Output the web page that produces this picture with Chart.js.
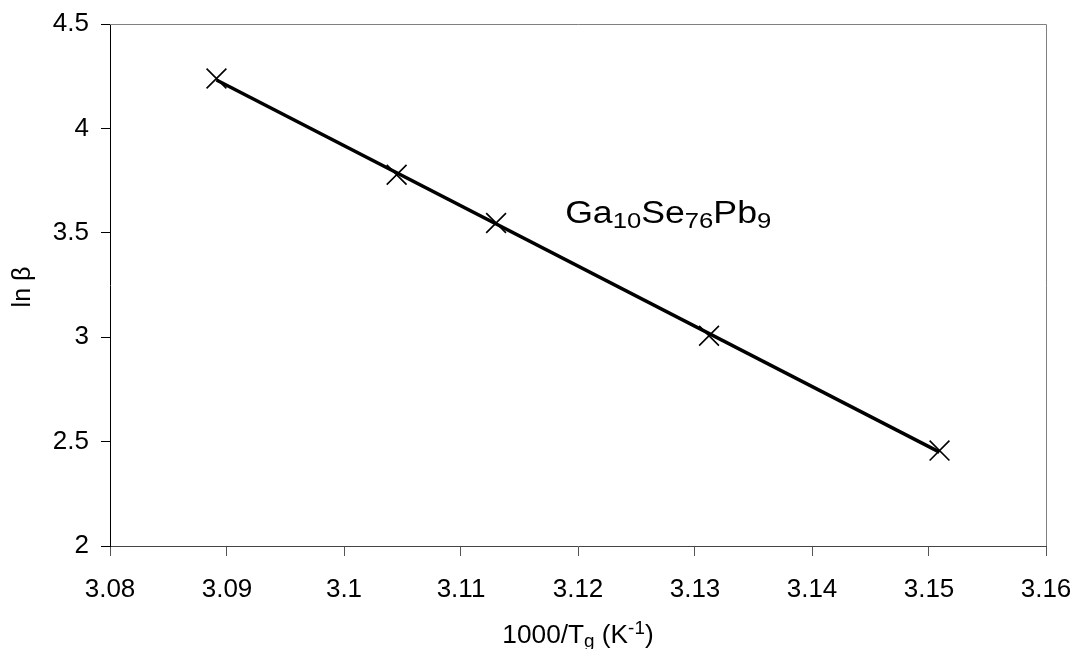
<!DOCTYPE html>
<html>
<head>
<meta charset="utf-8">
<title>ln beta vs 1000/Tg</title>
<script src="https://cdn.jsdelivr.net/npm/chart.js@4.4.1/dist/chart.umd.min.js"></script>
<style>
  html, body { margin: 0; padding: 0; background: #fff; }
  #wrap { width: 1075px; height: 649px; position: relative; }
</style>
</head>
<body>
<div id="wrap"><canvas id="lnChart"></canvas></div>
<script>
/* ─── data ─────────────────────────────────────────── */
const invTg  = [3.0891, 3.1045, 3.1130, 3.1312, 3.1509];   // 1000/Tg (K^-1)
const lnBeta = [4.239, 3.778, 3.547, 3.007, 2.457];        // ln(beta)

const xTicks = [3.08, 3.09, 3.10, 3.11, 3.12, 3.13, 3.14, 3.15, 3.16];
const yTicks = [2, 2.5, 3, 3.5, 4, 4.5];

// rich text pieces: [text, 'sub' | 'sup' | undefined]
const sampleLabel = [['Ga'], ['10', 'sub'], ['Se'], ['76', 'sub'], ['Pb'], ['9', 'sub']];
const xTitle = [['1000/T'], ['g', 'sub'], [' (K'], ['-1', 'sup'], [')']];
const yTitle = [['ln \u03b2']];

const FONT = "Arial, 'Liberation Sans', sans-serif";

/* ─── least squares fit for the drawn line ─────────── */
function linearFit(xs, ys) {
  const n = xs.length;
  const mx = xs.reduce((a, b) => a + b, 0) / n;
  const my = ys.reduce((a, b) => a + b, 0) / n;
  let sxy = 0, sxx = 0;
  for (let i = 0; i < n; i++) {
    sxy += (xs[i] - mx) * (ys[i] - my);
    sxx += (xs[i] - mx) * (xs[i] - mx);
  }
  const k = sxy / sxx;
  return x => my + k * (x - mx);
}
const fit = linearFit(invTg, lnBeta);
const xMin = Math.min(...invTg), xMax = Math.max(...invTg);
const fitLine = [{ x: xMin, y: fit(xMin) }, { x: xMax, y: fit(xMax) }];

/* ─── helper: text with sub/superscripts ───────────── */
const SUB = 0.72;
function richWidth(ctx, parts, size) {
  let w = 0;
  parts.forEach(([t, kind]) => {
    ctx.font = (kind ? size * SUB : size) + 'px ' + FONT;
    w += ctx.measureText(t).width;
  });
  return w;
}
// x = left edge, y = baseline, hs = horizontal stretch (source text is a bit wide)
function drawRich(ctx, parts, x, y, size, hs = 1) {
  ctx.save();
  ctx.translate(x, y);
  ctx.scale(hs, 1);
  let cx = 0;
  parts.forEach(([t, kind]) => {
    const s = kind ? size * SUB : size;
    const dy = kind === 'sub' ? size * 0.17 : kind === 'sup' ? -size * 0.36 : 0;
    ctx.font = s + 'px ' + FONT;
    ctx.fillText(t, cx, dy);
    cx += ctx.measureText(t).width;
  });
  ctx.restore();
}

/* ─── plugin: frame + annotations ──────────────────── */
const framePlugin = {
  id: 'frame',
  afterDraw(chart) {
    const { ctx, chartArea: a } = chart;
    ctx.save();
    // grey top + right border
    ctx.strokeStyle = '#808080';
    ctx.lineWidth = 1;
    ctx.beginPath();
    ctx.moveTo(a.left, a.top + 0.5);
    ctx.lineTo(a.right + 0.5, a.top + 0.5);
    ctx.lineTo(a.right + 0.5, a.bottom);
    ctx.stroke();

    ctx.fillStyle = '#000';
    ctx.textAlign = 'left';
    ctx.textBaseline = 'alphabetic';

    // sample label inside plot
    const xs = chart.scales.x, ys = chart.scales.y;
    drawRich(ctx, sampleLabel, xs.getPixelForValue(3.1189), ys.getPixelForValue(3.547), 31, 1.15);

    // x title, centred under the axis
    const tw = richWidth(ctx, xTitle, 25) * 1.05;
    drawRich(ctx, xTitle, 578 - tw / 2, 643, 25, 1.05);

    // y title, rotated
    ctx.translate(30, 287);
    ctx.rotate(-Math.PI / 2);
    const yw = richWidth(ctx, yTitle, 25);
    drawRich(ctx, yTitle, -yw / 2, 0, 25);
    ctx.restore();
  }
};

/* ─── chart ────────────────────────────────────────── */
new Chart(document.getElementById('lnChart'), {
  type: 'scatter',
  data: {
    datasets: [
      {
        label: 'fit',
        type: 'line',
        data: fitLine,
        borderColor: '#000',
        borderWidth: 3.5,
        pointRadius: 0,
        fill: false,
        order: 1
      },
      {
        label: 'ln beta',
        data: invTg.map((x, i) => ({ x, y: lnBeta[i] })),
        pointStyle: 'crossRot',
        pointRadius: 14,
        pointBorderWidth: 1.6,
        borderColor: '#000',
        backgroundColor: '#000',
        order: 2
      }
    ]
  },
  options: {
    responsive: true,
    maintainAspectRatio: false,
    animation: false,
    layout: { padding: { left: 0, top: 24, right: 29, bottom: 0 } },
    plugins: {
      legend: { display: false },
      tooltip: { enabled: false }
    },
    scales: {
      x: {
        type: 'linear',
        min: 3.08, max: 3.16,
        afterBuildTicks: s => { s.ticks = xTicks.map(v => ({ value: v })); },
        afterFit: s => { s.height = 103; s.paddingLeft = 0; s.paddingRight = 0; },
        grid: { drawOnChartArea: false, color: '#555', tickLength: 10, tickColor: '#555' },
        border: { color: '#444', width: 1 },
        ticks: {
          color: '#000',
          padding: 18,
          font: { family: FONT, size: 26 },
          callback: v => String(parseFloat(v.toFixed(2)))
        }
      },
      y: {
        type: 'linear',
        min: 2, max: 4.5,
        afterBuildTicks: s => { s.ticks = yTicks.map(v => ({ value: v })); },
        afterFit: s => { s.width = 110; s.paddingTop = 0; s.paddingBottom = 0; },
        grid: { drawOnChartArea: false, color: '#000', tickLength: 9, tickColor: '#000' },
        border: { color: '#000', width: 1 },
        ticks: {
          color: '#000',
          padding: 12,
          font: { family: FONT, size: 26 },
          callback: v => String(parseFloat(v.toFixed(1)))
        }
      }
    }
  },
  plugins: [framePlugin]
});
</script>
</body>
</html>
